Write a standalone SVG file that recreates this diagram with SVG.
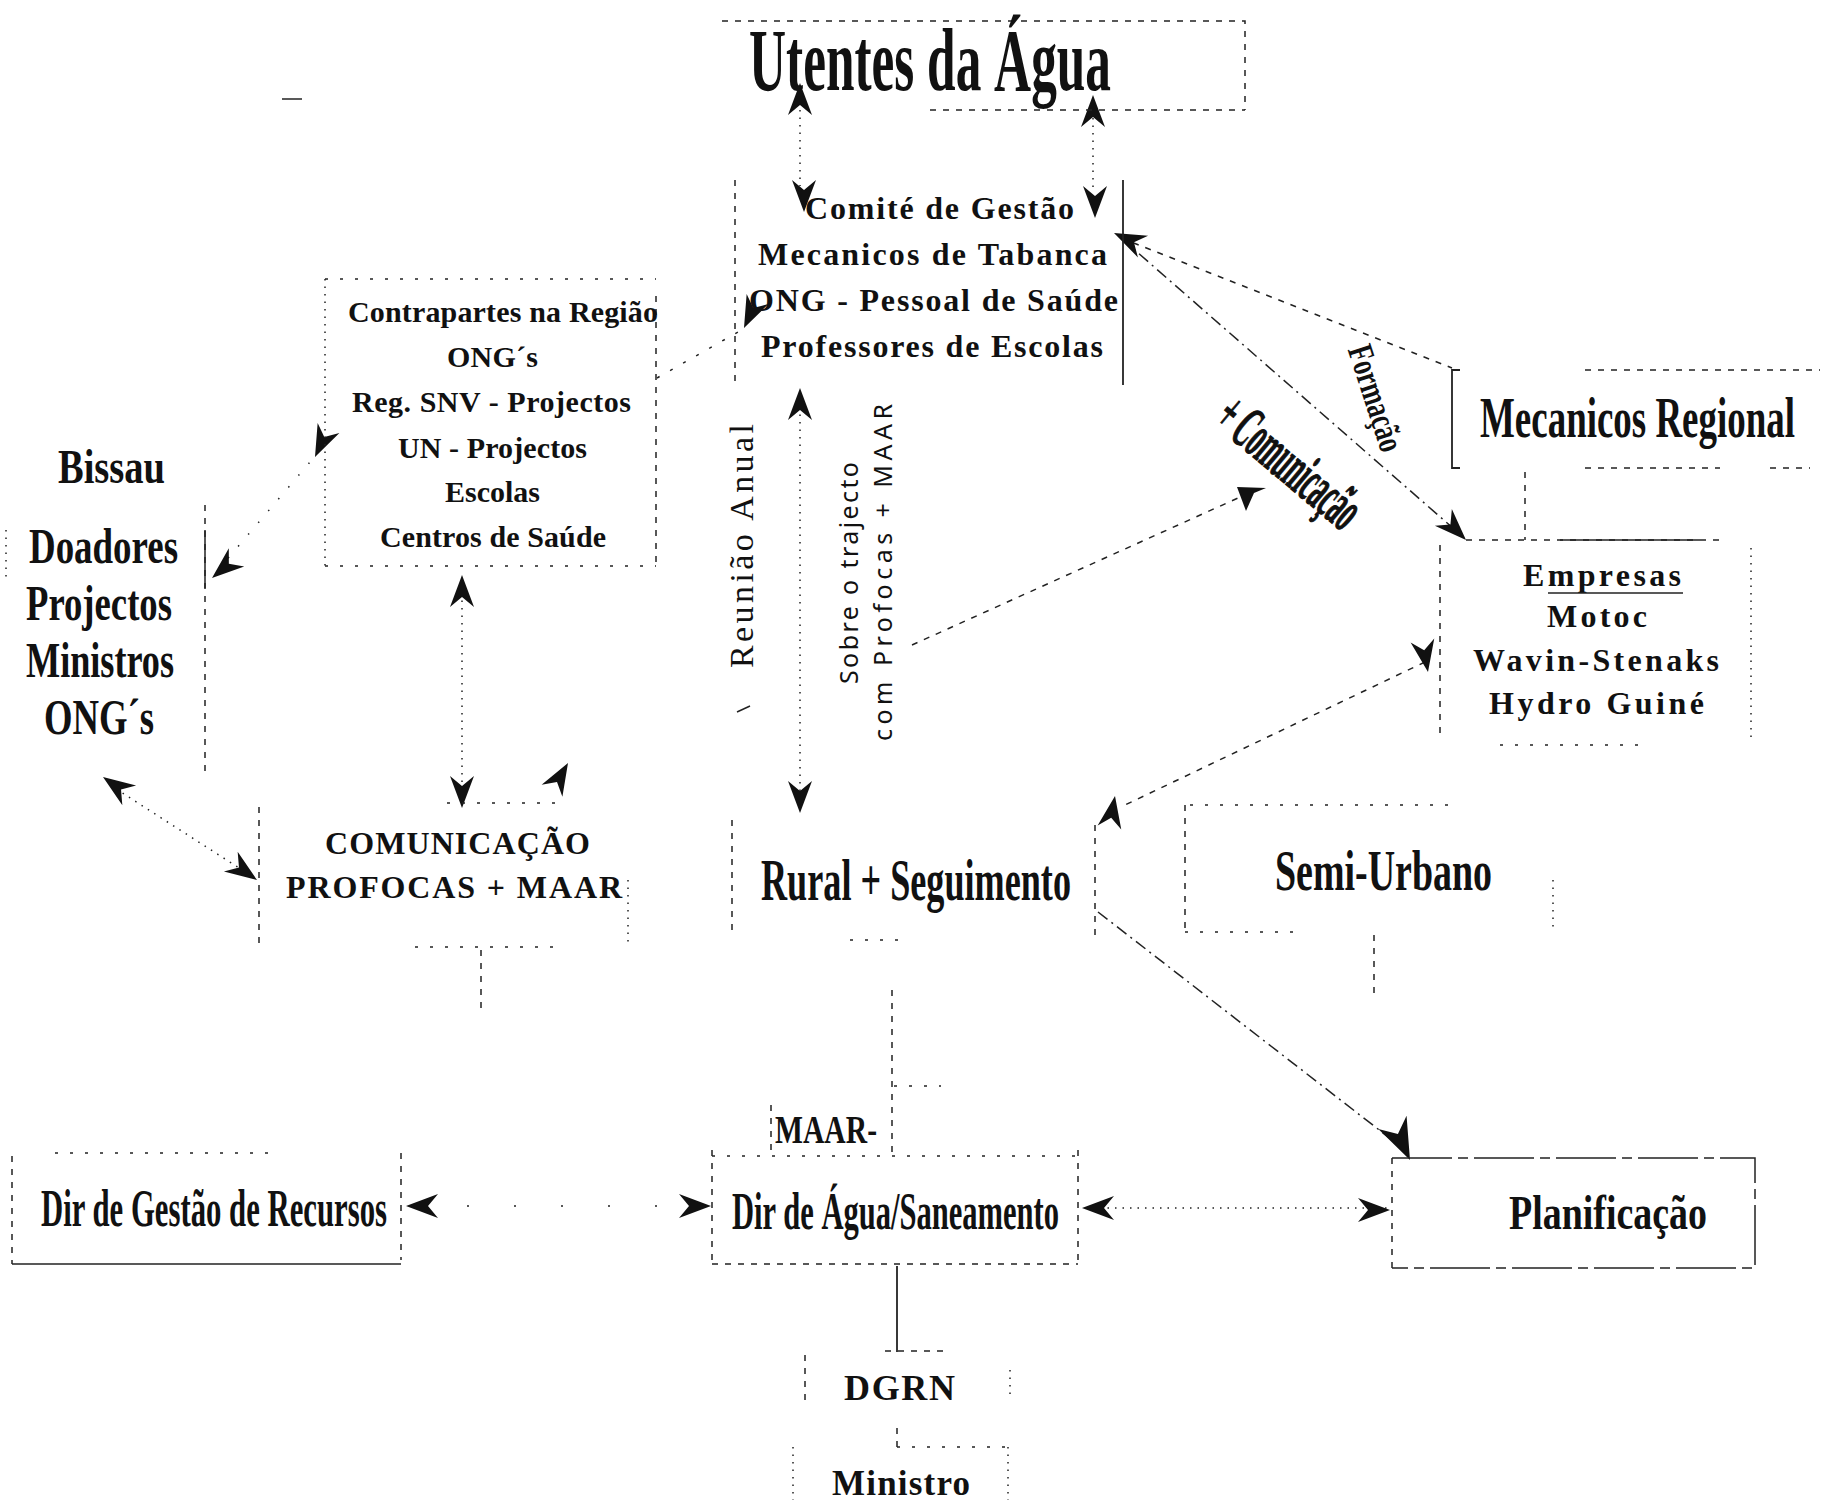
<svg xmlns="http://www.w3.org/2000/svg" width="1821" height="1501" viewBox="0 0 1821 1501">
<style>
.bg{fill:#fff}
.ln{stroke:#222;stroke-width:1.5;fill:none}
.dsh{stroke-dasharray:6 7}
.spr{stroke-dasharray:3 12}
.dot{stroke-dasharray:1.5 6}
.dd{stroke-dasharray:12 5 2 5}
.sol{stroke-width:1.8}
.c{font-family:"Liberation Serif","Times New Roman",serif;font-weight:bold;fill:#111}
.r{font-family:"Liberation Serif","Times New Roman",serif;fill:#111}
.s{font-family:"Noto Sans","DejaVu Sans",sans-serif;fill:#111}
.ah{fill:#111}
</style>
<defs>
<path id="ah" d="M0,0 L-32,-12 L-22,0 L-32,12 Z"/>
</defs>
<rect class="bg" x="0" y="0" width="1821" height="1501"/>

<g id="connectors">
<line class="ln dot" x1="800" y1="110" x2="800" y2="186"/>
<line class="ln dot" x1="1093" y1="118" x2="1093" y2="190"/>
<line class="ln dsh" x1="1121" y1="238" x2="1452" y2="368"/>
<line class="ln dd" x1="1121" y1="238" x2="1462" y2="536"/>
<line class="ln spr" x1="657" y1="378" x2="738" y2="332"/>
<line class="ln" stroke-dasharray="1.5 14" x1="218" y1="570" x2="310" y2="462"/>
<line class="ln dot" x1="110" y1="785" x2="250" y2="875"/>
<line class="ln dot" x1="462" y1="578" x2="462" y2="805"/>
<line class="ln dot" x1="800" y1="392" x2="800" y2="810"/>
<line class="ln dsh" x1="912" y1="645" x2="1238" y2="498"/>
<line class="ln dsh" x1="1425" y1="662" x2="1125" y2="805"/>
<line class="ln dd" x1="1098" y1="912" x2="1405" y2="1150"/>
<line class="ln dsh" x1="892" y1="990" x2="892" y2="1156"/>
<line class="ln dsh" x1="481" y1="950" x2="481" y2="1015"/>
<line class="ln dsh" x1="1374" y1="935" x2="1374" y2="993"/>
<line class="ln dsh" x1="1525" y1="472" x2="1525" y2="540"/>
<line class="ln" stroke-dasharray="2 45" x1="420" y1="1206" x2="695" y2="1206"/>
<line class="ln dot" x1="1085" y1="1208" x2="1388" y2="1208"/>
<line class="ln sol" x1="897" y1="1266" x2="897" y2="1352"/>
<line class="ln dsh" x1="897" y1="1428" x2="897" y2="1450"/>
<line class="ln" x1="737" y1="712" x2="750" y2="706"/>
<use href="#ah" class="ah" transform="translate(800,83) rotate(-90)"/>
<use href="#ah" class="ah" transform="translate(804,212) rotate(90)"/>
<use href="#ah" class="ah" transform="translate(1093,95) rotate(-90)"/>
<use href="#ah" class="ah" transform="translate(1095,218) rotate(90)"/>
<use href="#ah" class="ah" transform="translate(1114,233) rotate(205)"/>
<use href="#ah" class="ah" transform="translate(744,328) rotate(115)"/>
<use href="#ah" class="ah" transform="translate(315,457) rotate(115)"/>
<use href="#ah" class="ah" transform="translate(212,578) rotate(140)"/>
<use href="#ah" class="ah" transform="translate(103,777) rotate(215)"/>
<use href="#ah" class="ah" transform="translate(257,880) rotate(35)"/>
<use href="#ah" class="ah" transform="translate(462,575) rotate(-90)"/>
<use href="#ah" class="ah" transform="translate(462,808) rotate(90)"/>
<use href="#ah" class="ah" transform="translate(568,763) rotate(-60)"/>
<use href="#ah" class="ah" transform="translate(800,388) rotate(-90)"/>
<use href="#ah" class="ah" transform="translate(800,813) rotate(90)"/>
<polygon class="ah" points="1237,487 1266,488 1254,493 1246,511"/>
<use href="#ah" class="ah" transform="translate(1466,540) rotate(45)"/>
<use href="#ah" class="ah" transform="translate(1428,672) rotate(80)"/>
<use href="#ah" class="ah" transform="translate(1115,796) rotate(-80)"/>
<use href="#ah" class="ah" transform="translate(1410,1160) rotate(65) scale(1.3)"/>
<use href="#ah" class="ah" transform="translate(406,1206) rotate(180)"/>
<use href="#ah" class="ah" transform="translate(711,1206)"/>
<use href="#ah" class="ah" transform="translate(1082,1208) rotate(180)"/>
<use href="#ah" class="ah" transform="translate(1390,1210)"/>
</g>

<g id="stray">
<line class="ln" x1="282" y1="99" x2="302" y2="99" stroke-width="4"/>
</g>

<g id="utentes">
<path class="ln dsh" d="M722,21 H1245 V110 M930,110 H1245"/>
<text class="c" x="749" y="90" font-size="88" textLength="362" lengthAdjust="spacingAndGlyphs">Utentes da Água</text>
</g>

<g id="comite">
<line class="ln dsh" x1="735" y1="180" x2="735" y2="385"/>
<line class="ln sol" x1="1123" y1="180" x2="1123" y2="385"/>
<text class="c" x="805" y="219" font-size="32" textLength="269" lengthAdjust="spacing">Comité de Gestão</text>
<text class="c" x="758" y="265" font-size="32" textLength="349" lengthAdjust="spacing">Mecanicos de Tabanca</text>
<text class="c" x="749" y="311" font-size="32" textLength="369" lengthAdjust="spacing">ONG - Pessoal de Saúde</text>
<text class="c" x="761" y="357" font-size="32" textLength="342" lengthAdjust="spacing">Professores de Escolas</text>
</g>

<g id="contrapartes">
<path class="ln spr" d="M325,279 H656 M325,566 H656"/>
<line class="ln dot" x1="325" y1="279" x2="325" y2="569"/>
<line class="ln dsh" x1="656" y1="296" x2="656" y2="569"/>
<text class="c" x="348" y="322" font-size="30" textLength="310" lengthAdjust="spacing">Contrapartes na Região</text>
<text class="c" x="447" y="367" font-size="30" textLength="91" lengthAdjust="spacing">ONG´s</text>
<text class="c" x="352" y="412" font-size="30" textLength="279" lengthAdjust="spacing">Reg. SNV - Projectos</text>
<text class="c" x="398" y="458" font-size="30" textLength="189" lengthAdjust="spacing">UN - Projectos</text>
<text class="c" x="445" y="502" font-size="30" textLength="95" lengthAdjust="spacing">Escolas</text>
<text class="c" x="380" y="547" font-size="30" textLength="226" lengthAdjust="spacing">Centros de Saúde</text>
</g>

<g id="bissau">
<line class="ln dot" x1="6" y1="530" x2="6" y2="582"/>
<line class="ln dsh" x1="205" y1="505" x2="205" y2="772"/>
<line class="ln" x1="205" y1="530" x2="205" y2="588"/>
<text class="c" x="58" y="483" font-size="48" textLength="107" lengthAdjust="spacingAndGlyphs">Bissau</text>
<text class="c" x="29" y="563" font-size="50" textLength="149" lengthAdjust="spacingAndGlyphs">Doadores</text>
<text class="c" x="26" y="620" font-size="50" textLength="146" lengthAdjust="spacingAndGlyphs">Projectos</text>
<text class="c" x="26" y="677" font-size="50" textLength="148" lengthAdjust="spacingAndGlyphs">Ministros</text>
<text class="c" x="44" y="734" font-size="50" textLength="110" lengthAdjust="spacingAndGlyphs">ONG´s</text>
</g>

<g id="comunicacao">
<line class="ln dsh" x1="259" y1="807" x2="259" y2="947"/>
<path class="ln spr" d="M447,803 H560 M415,947 H560"/>
<line class="ln dot" x1="628" y1="880" x2="628" y2="945"/>
<text class="c" x="325" y="854" font-size="32" textLength="265" lengthAdjust="spacing">COMUNICAÇÃO</text>
<text class="c" x="286" y="898" font-size="32" textLength="336" lengthAdjust="spacing">PROFOCAS + MAAR</text>
</g>

<g id="labels-middle">
<text class="r" transform="translate(753,668) rotate(-90)" font-size="34" textLength="244" lengthAdjust="spacing">Reunião Anual</text>
<text class="s" transform="translate(858,684) rotate(-90)" font-size="25" textLength="222" lengthAdjust="spacing">Sobre o trajecto</text>
<text class="s" transform="translate(892,741) rotate(-90)" font-size="25" textLength="337" lengthAdjust="spacing">com Profocas + MAAR</text>
</g>

<g id="formacao">
<text class="c" transform="translate(1376,398) rotate(72)" x="0" y="12" font-size="36" text-anchor="middle" textLength="110" lengthAdjust="spacingAndGlyphs">Formação</text>
<text class="c" transform="translate(1290,462) rotate(40)" x="0" y="20" font-size="60" text-anchor="middle" textLength="170" lengthAdjust="spacingAndGlyphs" fill="#fff" stroke="#111" stroke-width="1.3">+ Comunicação</text>
</g>

<g id="mecanicos-regional">
<path class="ln sol" d="M1460,370 H1452 V468 H1460"/>
<path class="ln dsh" d="M1585,370 H1820 M1585,468 H1720 M1770,468 H1810"/>
<text class="c" transform="translate(1480,437) scale(0.63,1)" x="0" y="0" font-size="56" textLength="500" lengthAdjust="spacingAndGlyphs">Mecanicos Regional</text>
</g>

<g id="empresas">
<path class="ln dsh" d="M1466,540 H1720"/>
<line class="ln" x1="1560" y1="540" x2="1700" y2="540"/>
<line class="ln dsh" x1="1440" y1="545" x2="1440" y2="740"/>
<line class="ln dot" x1="1751" y1="548" x2="1751" y2="740"/>
<line class="ln spr" x1="1500" y1="745" x2="1650" y2="745"/>
<text class="c" x="1523" y="586" font-size="32" textLength="158" lengthAdjust="spacing">Empresas</text>
<line class="ln" x1="1548" y1="593" x2="1683" y2="593" stroke-width="2"/>
<text class="c" x="1547" y="627" font-size="32" textLength="100" lengthAdjust="spacing">Motoc</text>
<text class="c" x="1473" y="671" font-size="32" textLength="246" lengthAdjust="spacing">Wavin-Stenaks</text>
<text class="c" x="1489" y="714" font-size="32" textLength="215" lengthAdjust="spacing">Hydro Guiné</text>
</g>

<g id="rural">
<line class="ln dsh" x1="732" y1="820" x2="732" y2="935"/>
<line class="ln dsh" x1="1095" y1="825" x2="1095" y2="940"/>
<line class="ln spr" x1="850" y1="940" x2="905" y2="940"/>
<text class="c" x="761" y="900" font-size="60" textLength="310" lengthAdjust="spacingAndGlyphs">Rural + Seguimento</text>
</g>

<g id="semi-urbano">
<line class="ln dsh" x1="1185" y1="805" x2="1185" y2="932"/>
<path class="ln spr" d="M1190,805 H1460 M1185,932 H1300"/>
<line class="ln dot" x1="1553" y1="880" x2="1553" y2="930"/>
<text class="c" x="1275" y="890" font-size="58" textLength="217" lengthAdjust="spacingAndGlyphs">Semi-Urbano</text>
</g>

<g id="dir-gestao">
<path class="ln dsh" d="M12,1156 V1264"/>
<line class="ln" x1="12" y1="1264" x2="401" y2="1264"/>
<line class="ln dsh" x1="401" y1="1153" x2="401" y2="1260"/>
<line class="ln spr" x1="55" y1="1153" x2="280" y2="1153"/>
<text class="c" x="41" y="1226" font-size="52" textLength="346" lengthAdjust="spacingAndGlyphs">Dir de Gestão de Recursos</text>
</g>

<g id="maar">
<line class="ln dsh" x1="771" y1="1105" x2="771" y2="1150"/>
<line class="ln spr" x1="894" y1="1086" x2="941" y2="1086"/>
<text class="c" x="775" y="1143" font-size="40" textLength="102" lengthAdjust="spacingAndGlyphs">MAAR-</text>
</g>

<g id="dir-agua">
<line class="ln dsh" x1="712" y1="1150" x2="712" y2="1264"/>
<line class="ln dsh" x1="1078" y1="1150" x2="1078" y2="1264"/>
<path class="ln dsh" d="M712,1264 H1078"/>
<path class="ln spr" d="M712,1156 H1078"/>
<text class="c" x="732" y="1229" font-size="52" textLength="327" lengthAdjust="spacingAndGlyphs">Dir de Água/Saneamento</text>
</g>

<g id="planificacao">
<path class="ln" d="M1392,1158 H1755 V1268 H1392" stroke-dasharray="60 6 10 6"/>
<line class="ln dsh" x1="1392" y1="1158" x2="1392" y2="1268"/>
<text class="c" x="1509" y="1229" font-size="48" textLength="198" lengthAdjust="spacingAndGlyphs">Planificação</text>
</g>

<g id="dgrn">
<path class="ln dsh" d="M885,1351 H945"/>
<line class="ln dsh" x1="805" y1="1355" x2="805" y2="1402"/>
<line class="ln dot" x1="1010" y1="1370" x2="1010" y2="1400"/>
<text class="c" x="844" y="1400" font-size="36" textLength="111" lengthAdjust="spacing">DGRN</text>
</g>

<g id="ministro">
<path class="ln spr" d="M897,1447 H1008"/>
<line class="ln dot" x1="793" y1="1447" x2="793" y2="1500"/>
<line class="ln dot" x1="1008" y1="1447" x2="1008" y2="1500"/>
<text class="c" x="832" y="1495" font-size="35" textLength="138" lengthAdjust="spacing">Ministro</text>
</g>
</svg>
